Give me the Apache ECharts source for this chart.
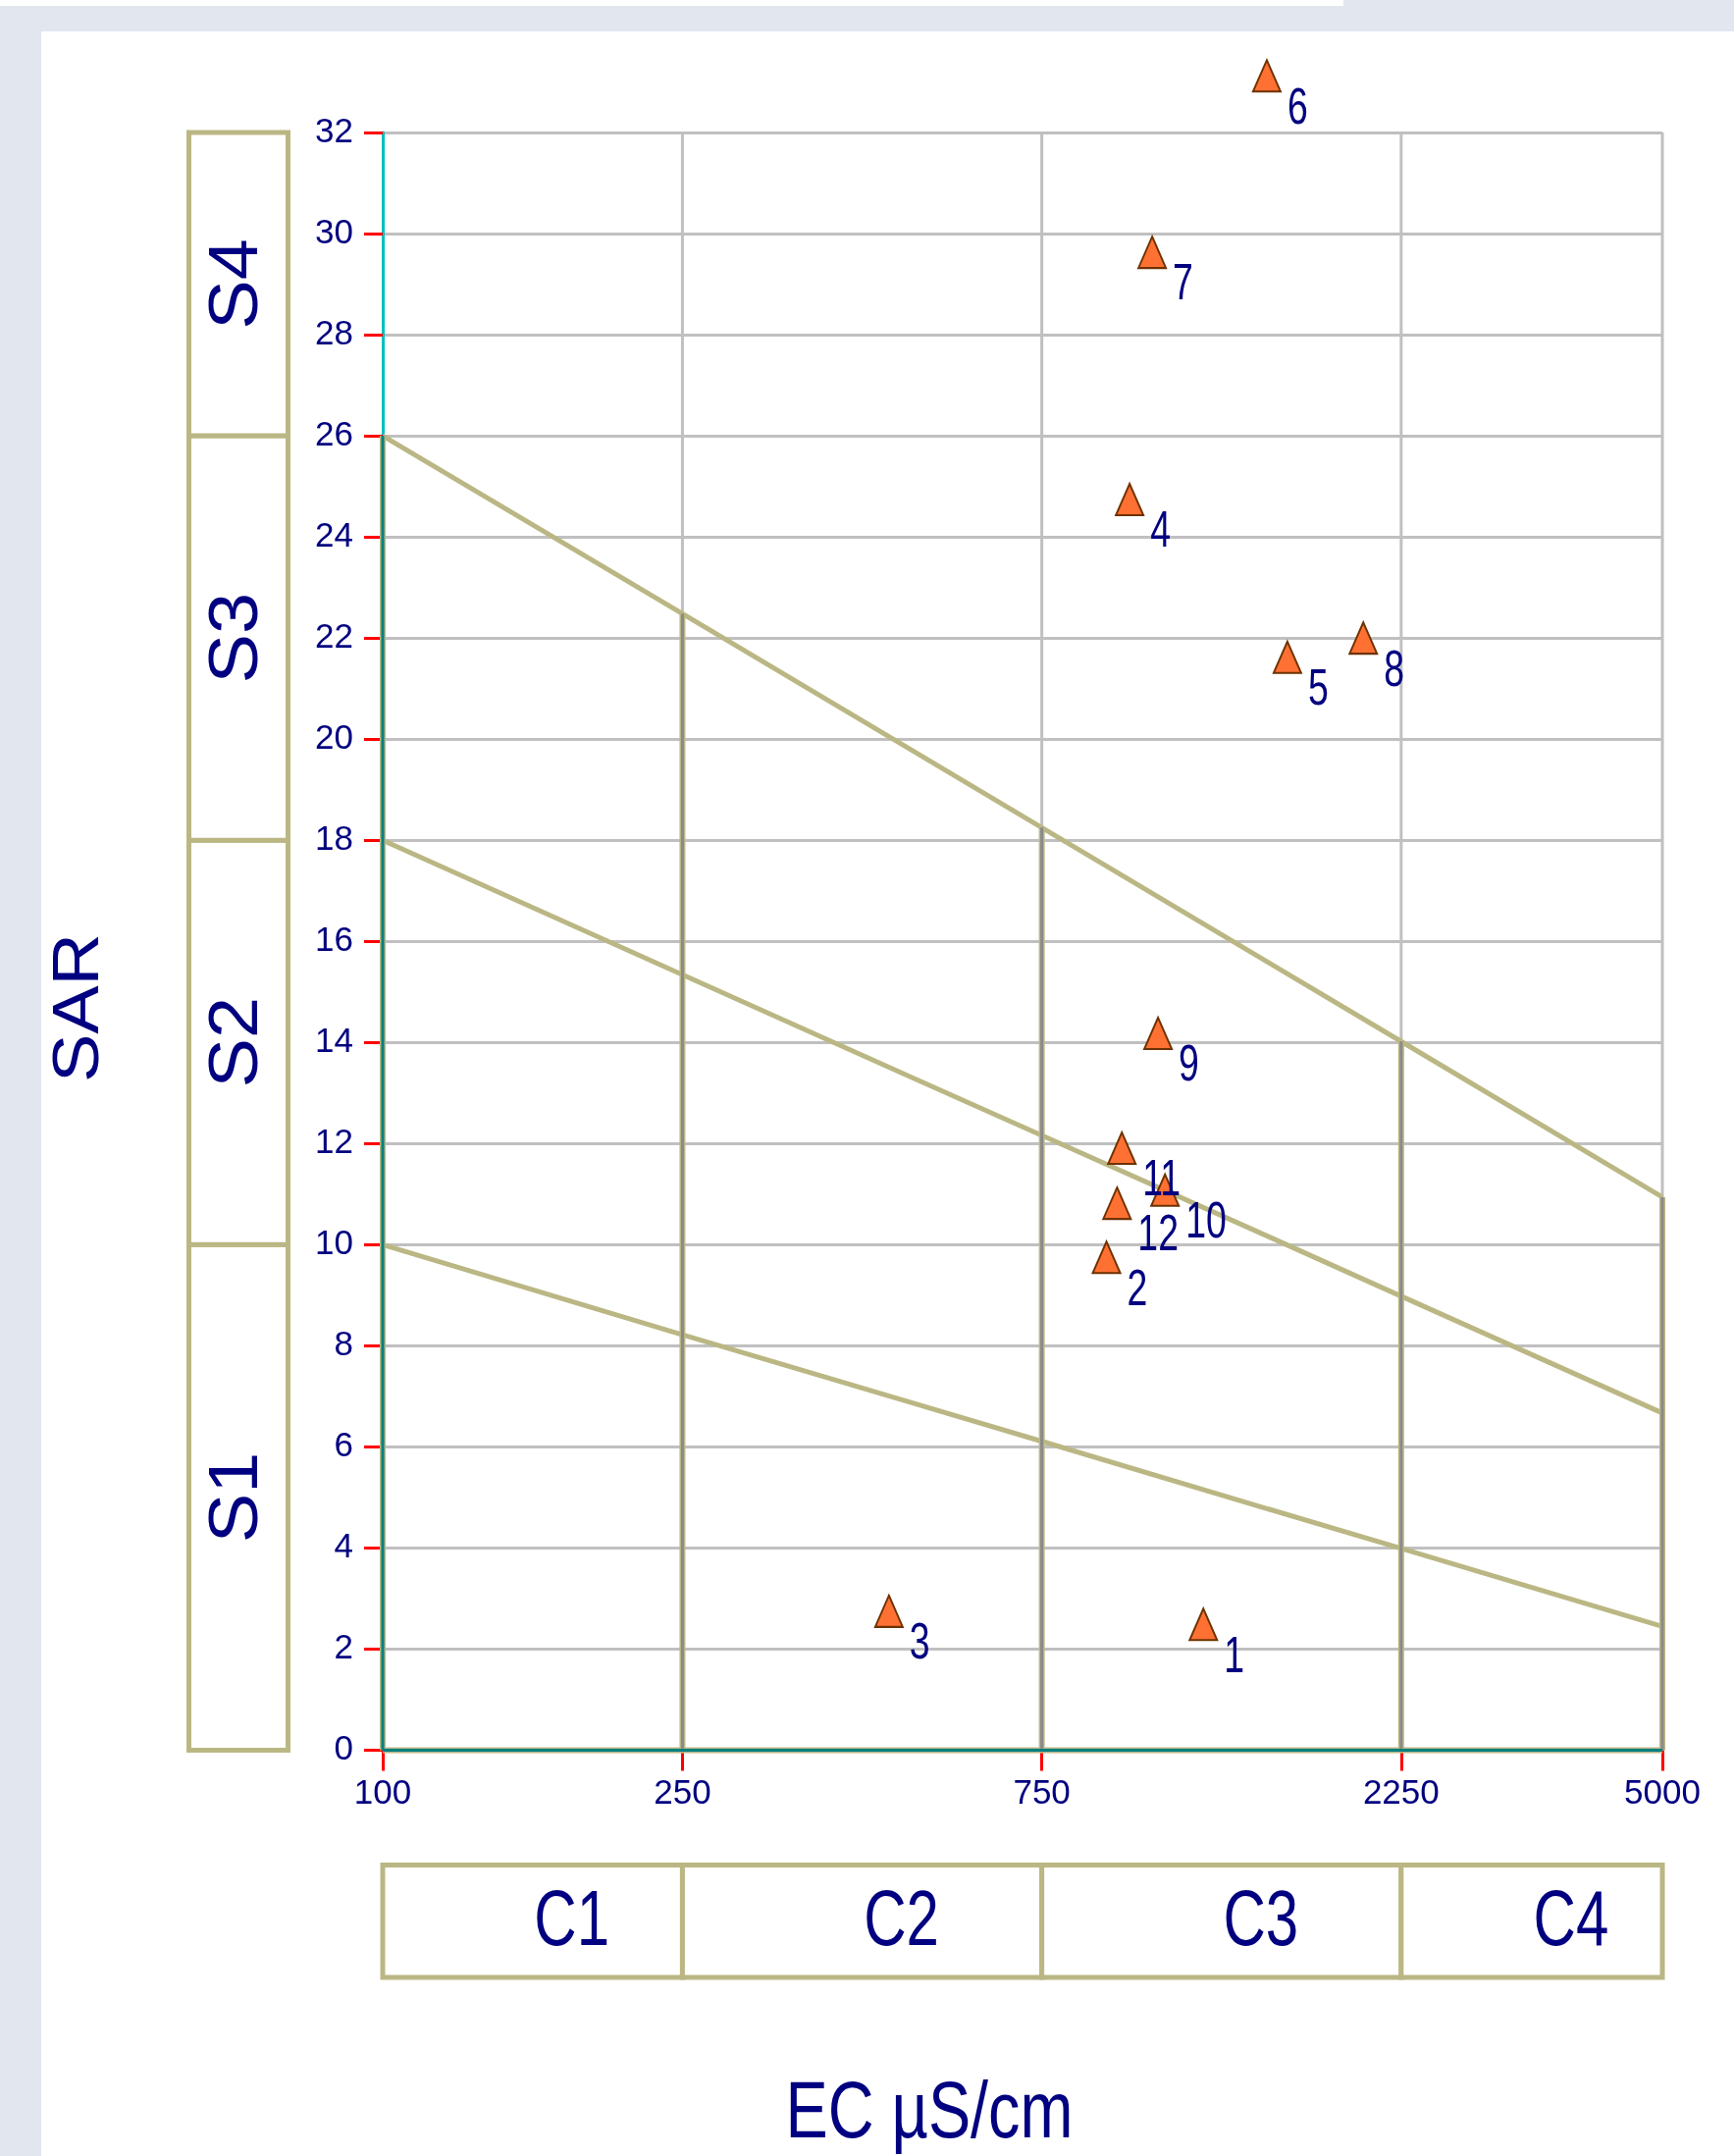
<!DOCTYPE html>
<html>
<head>
<meta charset="utf-8">
<script src="https://cdn.jsdelivr.net/npm/echarts@6/dist/echarts.min.js"></script>
<style>html,body{margin:0;padding:0;background:#fff}#c{width:1767px;height:2197px}</style>
</head>
<body>
<div id="c"></div>
<script>
// ---------- data ----------
const sampleIds = ['1','2','3','4','5','6','7','8','9','10','11','12'];
const ecValues  = [1229, 914, 470, 981, 1589, 1492, 1051, 2004, 1070, 1093, 958, 944];
const sarValues = [2.49, 9.75, 2.75, 24.74, 21.62, 33.12, 29.63, 22.0, 14.18, 11.08, 11.91, 10.82];

const ecTicks = [100, 250, 750, 2250, 5000];

// class boundary curves (SAR read at EC positions)
const boundaryEC   = [100, 250, 500, 750, 1500, 2250, 5000];
const boundaryS1S2 = [10.0, 8.22, 6.89, 6.11, 4.77, 3.99, 2.45];
const boundaryS2S3 = [18.0, 15.34, 13.33, 12.16, 10.16, 8.98, 6.67];
const boundaryS3S4 = [26.0, 22.48, 19.81, 18.25, 15.58, 14.02, 10.94];

const cClassNames  = ['C1', 'C2', 'C3', 'C4'];
const cClassBounds = [100, 250, 750, 2250, 5000];
const sClassNames  = ['S1', 'S2', 'S3', 'S4'];
const sClassBounds = [0, 10, 18, 26, 32];

// ---------- styles ----------
const KHAKI = '#BBB784', NAVY = '#000080', GRIDC = '#C0C0C0', TEAL = '#008080', CYAN = '#00C0C0', DARKG = '#8A8A8A';
const REG = "'Liberation Sans',Arial,sans-serif";

const chart = echarts.init(document.getElementById('c'), null, {renderer: 'canvas'});

function seg(data, color, width, z) {
  return {type: 'line', xAxisIndex: 0, yAxisIndex: 0, data: data, showSymbol: false, symbol: 'none',
    silent: true, clip: false, z: z, animation: false,
    lineStyle: {color: color, width: width, type: 'solid'}};
}
function txt(extra, text, size) {
  return Object.assign({type: 'text', silent: true,
    style: {text: text, fill: NAVY, font: size + 'px ' + REG, align: 'center', verticalAlign: 'middle',
      textAlign: 'center', textVerticalAlign: 'middle'}}, extra);
}

const series = [];
// vertical light grid lines at EC ticks (full height)
ecTicks.slice(1).forEach(v => series.push(seg([[v, 0], [v, 32]], GRIDC, 3, 1)));
// boundary curves
[boundaryS1S2, boundaryS2S3, boundaryS3S4].forEach(arr =>
  series.push(seg(boundaryEC.map((e, i) => [e, arr[i]]), KHAKI, 5, 3)));
// class verticals from 0 up to S3/S4 boundary
cClassBounds.forEach(v => {
  const top = boundaryS3S4[boundaryEC.indexOf(v)];
  series.push(seg([[v, 0], [v, top]], KHAKI, 6, 3));
  series.push(seg([[v, 0], [v, top]], v === 100 ? TEAL : DARKG, 3, 4));
});
// bottom line
series.push(seg([[100, 0], [5000, 0]], KHAKI, 6, 3));
series.push(seg([[100, 0], [5000, 0]], TEAL, 3, 4));

const sampleData = ecValues.map((e, i) => [e, sarValues[i]]);
// samples
series.push({
  type: 'scatter', xAxisIndex: 0, yAxisIndex: 0, clip: false, z: 10, animation: false,
  data: sampleData,
  symbol: 'triangle', symbolSize: [28, 32],
  itemStyle: {color: '#FF7033', borderColor: '#6E3200', borderWidth: 2, opacity: 1},
  label: {show: false}
});
// sample labels (narrow, tall digits)
series.push({
  type: 'custom', xAxisIndex: 0, yAxisIndex: 0, clip: false, z: 11, animation: false, silent: true,
  data: sampleData,
  renderItem: function (params, api) {
    const c = api.coord([api.value(0), api.value(1)]);
    const t = txt({x: c[0] + 21, y: c[1] + 34, scaleX: 0.72}, sampleIds[params.dataIndex], 52);
    t.style.align = 'left'; t.style.textAlign = 'left';
    return t;
  }
});

// S class boxes
series.push({
  type: 'custom', xAxisIndex: 1, yAxisIndex: 1, animation: false, silent: true, clip: false,
  data: sClassNames.map((n, i) => [sClassBounds[i], sClassBounds[i + 1]]),
  renderItem: function (params, api) {
    const lo = api.value(0), hi = api.value(1);
    const p1 = api.coord([0, hi]), p2 = api.coord([1, lo]);
    return {type: 'group', children: [
      {type: 'rect', shape: {x: p1[0], y: p1[1], width: p2[0] - p1[0], height: p2[1] - p1[1]},
        style: {fill: '#fff', stroke: KHAKI, lineWidth: 5}},
      txt({x: (p1[0] + p2[0]) / 2, y: (p1[1] + p2[1]) / 2, rotation: Math.PI / 2, scaleX: 1.08},
        sClassNames[params.dataIndex], 70)
    ]};
  }
});

// C class boxes
series.push({
  type: 'custom', xAxisIndex: 2, yAxisIndex: 2, animation: false, silent: true, clip: false,
  data: cClassNames.map((n, i) => [cClassBounds[i], cClassBounds[i + 1]]),
  renderItem: function (params, api) {
    const lo = api.value(0), hi = api.value(1);
    const p1 = api.coord([lo, 1]), p2 = api.coord([hi, 0]);
    return {type: 'group', children: [
      {type: 'rect', shape: {x: p1[0], y: p1[1], width: p2[0] - p1[0], height: p2[1] - p1[1]},
        style: {fill: '#fff', stroke: KHAKI, lineWidth: 5}},
      txt({x: (p1[0] + p2[0]) / 2 + 40, y: (p1[1] + p2[1]) / 2 + 2, scaleX: 0.75},
        cClassNames[params.dataIndex], 80)
    ]};
  }
});

const option = {
  animation: false,
  backgroundColor: '#ffffff',
  grid: [
    {left: 390, right: 73, top: 135, bottom: 413.5},
    {left: 192.5, width: 101, top: 135, bottom: 413.5},
    {left: 390, right: 73, top: 1900.5, height: 114.5}
  ],
  xAxis: [
    {gridIndex: 0, type: 'log', logBase: 10, min: 100, max: 5000,
      axisLine: {show: true, onZero: false, lineStyle: {color: TEAL, width: 3}},
      axisTick: {show: true, length: 21, customValues: ecTicks, lineStyle: {color: '#FF0000', width: 3}},
      axisLabel: {show: true, customValues: ecTicks, color: NAVY, fontFamily: REG, fontSize: 35, margin: 27,
        formatter: v => String(Math.round(v))},
      splitLine: {show: false}, minorTick: {show: false}, minorSplitLine: {show: false}},
    {gridIndex: 1, type: 'value', min: 0, max: 1, show: false},
    {gridIndex: 2, type: 'log', logBase: 10, min: 100, max: 5000, show: false}
  ],
  yAxis: [
    {gridIndex: 0, type: 'value', min: 0, max: 32, interval: 2,
      axisLine: {show: true, onZero: false, lineStyle: {color: CYAN, width: 3}},
      axisTick: {show: true, length: 19, lineStyle: {color: '#FF0000', width: 3}},
      axisLabel: {color: NAVY, fontFamily: REG, fontSize: 35, margin: 30, padding: [12, 0, 0, 0]},
      splitLine: {show: true, lineStyle: {color: GRIDC, width: 3}}},
    {gridIndex: 1, type: 'value', min: 0, max: 32, show: false},
    {gridIndex: 2, type: 'value', min: 0, max: 1, show: false}
  ],
  graphic: [
    {type: 'rect', z: -100, silent: true, shape: {x: 0, y: 6, width: 1767, height: 26}, style: {fill: '#E1E6EF'}},
    {type: 'rect', z: -100, silent: true, shape: {x: 1369, y: 0, width: 398, height: 6}, style: {fill: '#E1E6EF'}},
    {type: 'rect', z: -100, silent: true, shape: {x: 0, y: 6, width: 42, height: 2191}, style: {fill: '#E1E6EF'}},
    txt({x: 82, y: 1027, rotation: Math.PI / 2, scaleX: 1.12}, 'SAR', 66),
    txt({x: 947, y: 2156, scaleX: 0.8}, 'EC µS/cm', 81)
  ],
  series: series
};
chart.setOption(option);
</script>
</body>
</html>
